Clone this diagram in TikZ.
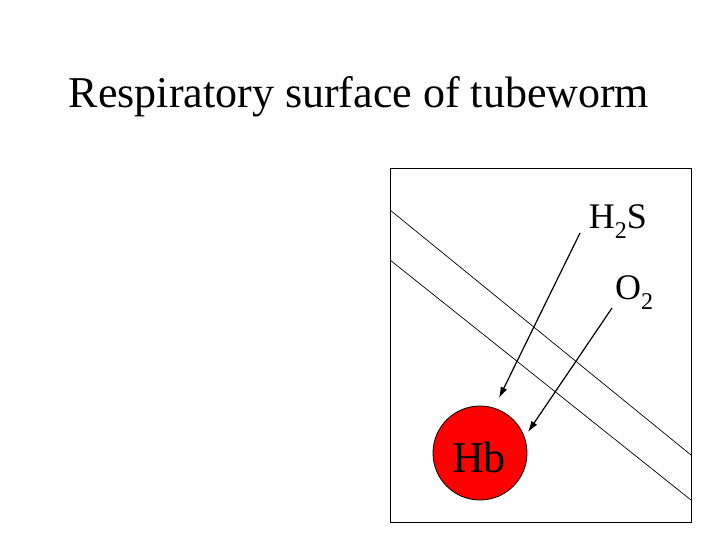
\documentclass[tikz,border=0pt]{standalone}
\usepackage{fontspec}
\usetikzlibrary{arrows.meta}
\setmainfont{Liberation Serif}
\newcommand{\sbs}[1]{\raisebox{-0.28em}{\fontsize{24}{24}\selectfont #1}}
\begin{document}
\begin{tikzpicture}[x=1pt,y=-1pt,
  lab/.style={inner sep=0pt,font=\fontsize{36}{36}\selectfont},
  arr/.style={-{Latex[length=11pt,width=7pt]},line width=1.2pt}]
\useasboundingbox (0,0) rectangle (720,540);
\node[lab,font=\fontsize{44}{44}\selectfont] (title) at (359,97) {Respiratory surface of tubeworm};
\node[draw,line width=0.8pt,minimum width=301pt,minimum height=354pt,anchor=north west,inner sep=0pt] (box) at (390,168) {};
\coordinate (l1a) at (390,210); \coordinate (l1b) at (691,455);
\coordinate (l2a) at (390,260); \coordinate (l2b) at (691,500);
\draw[line width=0.7pt] (l1a) -- (l1b);
\draw[line width=0.7pt] (l2a) -- (l2b);
\node[circle,draw,fill=red,line width=0.8pt,minimum size=94pt,inner sep=0pt] (hb) at (480,453) {};
\node[lab,font=\fontsize{44}{44}\selectfont] (hbt) at (479,457) {Hb};
\node[lab] (h2s) at (618,222) {H\sbs{2}S};
\node[lab] (o2) at (634,293) {O\sbs{2}};
\coordinate (a1s) at (580,233); \coordinate (a1e) at (499,398);
\coordinate (a2s) at (612,308); \coordinate (a2e) at (528,432);
\draw[arr] (a1s) -- (a1e);
\draw[arr] (a2s) -- (a2e);
\end{tikzpicture}
\end{document}
